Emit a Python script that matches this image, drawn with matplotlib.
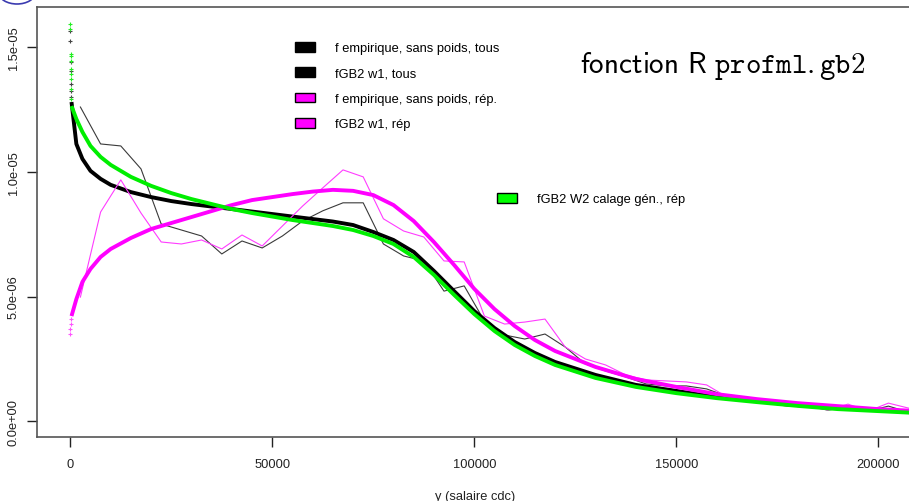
import matplotlib
matplotlib.use("Agg")
import matplotlib.pyplot as plt
from matplotlib.patches import Patch, Ellipse

# densités, en unités de 1e-6
x_emp = [2500, 7500, 12500, 17500, 22500, 27500, 32500, 37500, 42500, 47500,
         52500, 57500, 62500, 67500, 72500, 77500, 82500, 87500, 92500, 97500,
         102500, 107500, 112500, 117500, 122500, 127500, 132500, 137500, 142500, 147500,
         152500, 157500, 162500, 167500, 172500, 177500, 182500, 187500, 192500, 197500,
         202500, 207500]
f_emp_tous = [12.60, 11.12, 11.04, 10.12, 7.91, 7.67, 7.43, 6.71, 7.23, 6.95,
              7.43, 8.03, 8.44, 8.76, 8.76, 7.11, 6.63, 6.43, 5.22, 5.43,
              4.02, 3.46, 3.30, 3.50, 2.98, 2.30, 2.02, 1.78, 1.50, 1.42,
              1.42, 1.30, 1.01, 0.89, 0.73, 0.61, 0.61, 0.45, 0.57, 0.41,
              0.61, 0.37]
f_emp_rep = [4.98, 8.39, 9.68, 8.35, 7.19, 7.11, 7.27, 6.91, 7.47, 7.03,
             7.83, 8.63, 9.36, 10.08, 9.80, 8.12, 7.63, 7.39, 6.43, 6.39,
             4.22, 3.90, 3.98, 4.10, 2.98, 2.50, 2.26, 1.86, 1.66, 1.62,
             1.58, 1.46, 0.98, 0.89, 0.81, 0.73, 0.69, 0.45, 0.69, 0.41,
             0.73, 0.53]

x_fit = [300, 1500, 3000, 5000, 7500, 10000, 15000, 20000, 25000, 30000,
         35000, 40000, 45000, 50000, 55000, 60000, 65000, 70000, 75000, 80000,
         85000, 90000, 95000, 100000, 105000, 110000, 115000, 120000, 130000, 140000,
         150000, 160000, 170000, 180000, 190000, 200000, 210000]
gb2_w1_tous = [12.80, 11.12, 10.52, 10.04, 9.72, 9.48, 9.19, 8.99, 8.83, 8.71,
               8.61, 8.51, 8.41, 8.31, 8.21, 8.11, 8.01, 7.87, 7.59, 7.27,
               6.79, 6.03, 5.22, 4.42, 3.74, 3.18, 2.74, 2.38, 1.86, 1.46,
               1.22, 0.97, 0.81, 0.65, 0.53, 0.45, 0.37]
gb2_w1_rep = [4.22, 4.90, 5.59, 6.11, 6.59, 6.91, 7.35, 7.71, 7.95, 8.19,
              8.43, 8.67, 8.87, 8.99, 9.11, 9.21, 9.28, 9.24, 9.07, 8.67,
              8.03, 7.19, 6.27, 5.31, 4.50, 3.82, 3.26, 2.82, 2.18, 1.70,
              1.38, 1.09, 0.89, 0.73, 0.61, 0.49, 0.41]
gb2_w2_rep = [12.64, 12.12, 11.60, 11.04, 10.60, 10.28, 9.80, 9.44, 9.15, 8.91,
              8.71, 8.51, 8.35, 8.21, 8.07, 7.95, 7.83, 7.67, 7.43, 7.11,
              6.59, 5.87, 5.07, 4.30, 3.62, 3.06, 2.62, 2.26, 1.74, 1.38,
              1.13, 0.93, 0.77, 0.62, 0.49, 0.41, 0.33]

# points isolés tout près de 0
x_pts0 = [20, 40, 60, 80, 100, 120, 140]
pts0_tous = [15.65, 15.25, 14.41, 14.05, 13.52, 13.24, 13.00]
x_pts0_w2 = [20, 40, 60, 80, 100, 120, 140, 160, 180, 200]
pts0_w2 = [15.94, 15.73, 14.73, 14.65, 14.45, 14.13, 13.93, 13.73, 13.33, 12.93]
x_pts0_rep = [20, 40, 60, 80]
pts0_rep = [3.51, 3.71, 3.91, 4.11]

xticks = [0, 50000, 100000, 150000, 200000]
yticks = [0, 5, 10, 15]
ytick_labels = ['0.0e+00', '5.0e-06', '1.0e-05', '1.5e-05']

labels_leg = ['f empirique, sans poids, tous', 'fGB2 w1, tous',
              'f empirique, sans poids, rép.', 'fGB2 w1, rép']
label_w2 = 'fGB2 W2 calage gén., rép'

plt.rcParams['font.family'] = ['Liberation Sans', 'DejaVu Sans']
plt.rcParams['mathtext.fontset'] = 'cm'

W, H = 909, 502
fig = plt.figure(figsize=(W / 100, H / 100), dpi=100)
ax = fig.add_axes([37.3 / W, (H - 438.3) / H, (913 - 37.3) / W, (438.3 - 7.5) / H])

lw_fit = 2.8
ax.plot(x_emp, f_emp_tous, color='#3a3a3a', lw=0.8)
ax.plot(x_fit, gb2_w1_tous, color='black', lw=lw_fit, solid_capstyle='butt')
ax.plot(x_emp, f_emp_rep, color='#ff3cff', lw=0.8)
ax.plot(x_fit, gb2_w1_rep, color='#ff00ff', lw=lw_fit, solid_capstyle='butt')
ax.plot(x_fit, gb2_w2_rep, color='#00ee00', lw=lw_fit, solid_capstyle='butt')
ax.plot(x_pts0, pts0_tous, ls='none', marker='+', ms=3, mew=0.8, color='#444444')
ax.plot(x_pts0_w2, pts0_w2, ls='none', marker='+', ms=3, mew=0.8, color='#22ee22')
ax.plot(x_pts0_rep, pts0_rep, ls='none', marker='+', ms=3, mew=0.8, color='#ff55ff')

ax.set_xlim(-8168, 208590)
ax.set_ylim(-0.64, 16.63)
ax.set_xticks(xticks)
ax.set_xticklabels([str(v) for v in xticks])
ax.set_yticks(yticks)
ax.set_yticklabels(ytick_labels, rotation=90, va='center')
ax.tick_params(axis='both', direction='out', length=7, width=1, color='#222222',
               labelsize=9.3, labelcolor='#222222')
ax.tick_params(axis='x', pad=8)
ax.tick_params(axis='y', pad=5.5)
for sp in ax.spines.values():
    sp.set_color('#555555')
    sp.set_linewidth(1.2)

fig.text(475 / W, 1 - 497 / H, 'y (salaire cdc)', ha='center', va='center',
         fontsize=9.3, color='#222222')

# légendes
leg_kw = dict(loc='upper left', bbox_transform=fig.transFigure, frameon=False,
              fontsize=9.3, borderpad=0, borderaxespad=0, handlelength=1.55,
              handleheight=0.78, handletextpad=1.55, labelspacing=1.0)
handles = [Patch(facecolor='black', edgecolor='black'),
           Patch(facecolor='black', edgecolor='black'),
           Patch(facecolor='#ff00ff', edgecolor='black'),
           Patch(facecolor='#ff00ff', edgecolor='black')]
leg = ax.legend(handles, labels_leg, bbox_to_anchor=(295 / W, 1 - 43 / H), **leg_kw)
ax.add_artist(leg)
ax.legend([Patch(facecolor='#00ff00', edgecolor='black')], [label_w2],
          bbox_to_anchor=(497 / W, 1 - 194 / H), **leg_kw)

fig.text(580 / W, 1 - 73 / H, r'$\mathsf{fonction\ R}\ \mathtt{profml.gb2}$',
         fontsize=21, ha='left', va='baseline')

# bout d'icône de navigation en haut à gauche
fig.add_artist(Ellipse((17 / W, 1 + 6 / H), 36 / W, 22 / H, transform=fig.transFigure,
                       fill=False, edgecolor='#3b3bb0', lw=1.2))

fig.savefig('out.png', dpi=100)
